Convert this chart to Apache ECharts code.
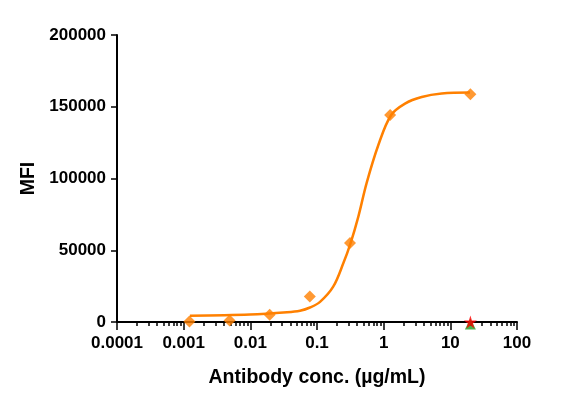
<!DOCTYPE html>
<html>
<head>
<meta charset="utf-8">
<script src="https://cdn.jsdelivr.net/npm/echarts@6/dist/echarts.min.js"></script>
<style>
  html, body { margin: 0; padding: 0; background: #fff; }
  #chart { width: 576px; height: 407px; }
</style>
</head>
<body>
<div id="chart"></div>
<script>
// Measured points (4-fold dilution series)
const concValues = [0.00122, 0.00488, 0.0195, 0.078, 0.3125, 1.25, 20];
const mfiValues = [400, 1100, 5000, 17800, 55000, 144300, 158700];

// Fitted curve
const curveConc = [0.00124, 0.00989, 0.0355, 0.0556, 0.0785, 0.111, 0.175, 0.248, 0.320, 0.416, 0.556, 0.830, 1.29, 2.09, 3.72, 7.43, 19.7];
const curveMfi = [4400, 5200, 6800, 7900, 10100, 14000, 24600, 40900, 55200, 73300, 97000, 123200, 144100, 152200, 156800, 159200, 159900];

// Controls at the top concentration
const isotypeConc = [20];
const isotypeMfi = [0];
const blankConc = [20];
const blankMfi = [0];

// Axis ticks
const xMajorTicks = [0.0001, 0.001, 0.01, 0.1, 1, 10, 100];
const xTickLabels = ['0.0001', '0.001', '0.01', '0.1', '1', '10', '100'];
const xMinorTicks = [];
for (let d = 0; d < xMajorTicks.length - 1; d++) {
  for (let k = 2; k <= 9; k++) xMinorTicks.push(+(xMajorTicks[d] * k).toPrecision(3));
}

const pairs = (xs, ys) => xs.map((x, i) => [x, ys[i]]);

const font = 'Liberation Sans, Arial, Helvetica, sans-serif';
const orange = '#FF8000';

function initChart() {
  const chart = echarts.init(document.getElementById('chart'));

  const option = {
    animation: false,
    backgroundColor: '#fff',
    grid: { left: 117, right: 59, top: 35, bottom: 85, containLabel: false },
    xAxis: [
      {
        type: 'log',
        logBase: 10,
        min: 0.0001,
        max: 100,
        name: 'Antibody conc. (µg/mL)',
        nameLocation: 'middle',
        nameGap: 46,
        nameTextStyle: { color: '#000', fontFamily: font, fontWeight: 'bold', fontSize: 19.5 },
        axisLine: { onZero: false, lineStyle: { color: '#000', width: 2 } },
        axisTick: { customValues: xMajorTicks, length: 8, lineStyle: { color: '#000', width: 1.5 } },
        axisLabel: {
          customValues: xMajorTicks,
          margin: 13,
          color: '#000',
          fontFamily: font,
          fontWeight: 'bold',
          fontSize: 17,
          formatter: v => {
            const i = xMajorTicks.findIndex(t => Math.abs(Math.log10(t) - Math.log10(v)) < 1e-6);
            return i >= 0 ? xTickLabels[i] : '';
          }
        },
        splitLine: { show: false }
      },
      {
        type: 'log',
        logBase: 10,
        min: 0.0001,
        max: 100,
        position: 'bottom',
        axisLine: { show: false },
        axisTick: { customValues: xMinorTicks, length: 4, lineStyle: { color: '#000', width: 1.5 } },
        axisLabel: { show: false },
        splitLine: { show: false }
      }
    ],
    yAxis: {
      type: 'value',
      min: 0,
      max: 200000,
      interval: 50000,
      name: 'MFI',
      nameLocation: 'middle',
      nameGap: 73,
      nameTextStyle: { color: '#000', fontFamily: font, fontWeight: 'bold', fontSize: 19.5 },
      axisLine: { show: true, lineStyle: { color: '#000', width: 2 } },
      axisTick: { show: true, length: 6, lineStyle: { color: '#000', width: 1.5 } },
      axisLabel: {
        margin: 11,
        color: '#000',
        fontFamily: font,
        fontWeight: 'bold',
        fontSize: 17,
        formatter: v => String(v)
      },
      splitLine: { show: false }
    },
    series: [
      {
        name: 'Fit',
        type: 'line',
        data: pairs(curveConc, curveMfi),
        smooth: 0.35,
        showSymbol: false,
        clip: false,
        lineStyle: { color: orange, width: 2.5 },
        z: 2
      },
      {
        name: 'Antibody',
        type: 'scatter',
        data: pairs(concValues, mfiValues),
        symbol: 'diamond',
        symbolSize: 12,
        clip: false,
        itemStyle: { color: orange },
        z: 3
      },
      {
        name: 'Isotype',
        type: 'scatter',
        data: pairs(isotypeConc, isotypeMfi),
        symbol: 'triangle',
        symbolSize: 11,
        symbolOffset: [0, 2],
        clip: false,
        itemStyle: { color: '#1E9E1E' },
        z: 4
      },
      {
        name: 'Blank',
        type: 'scatter',
        data: pairs(blankConc, blankMfi),
        symbol: 'path://M50,0 L61.8,35.4 L100,35.4 L69.1,57.3 L80.9,92.7 L50,70.8 L19.1,92.7 L30.9,57.3 L0,35.4 L38.2,35.4 Z',
        symbolSize: 13,
        clip: false,
        itemStyle: { color: '#FF0000' },
        z: 5
      }
    ]
  };

  chart.setOption(option);
}

document.addEventListener('DOMContentLoaded', initChart);
</script>
</body>
</html>
